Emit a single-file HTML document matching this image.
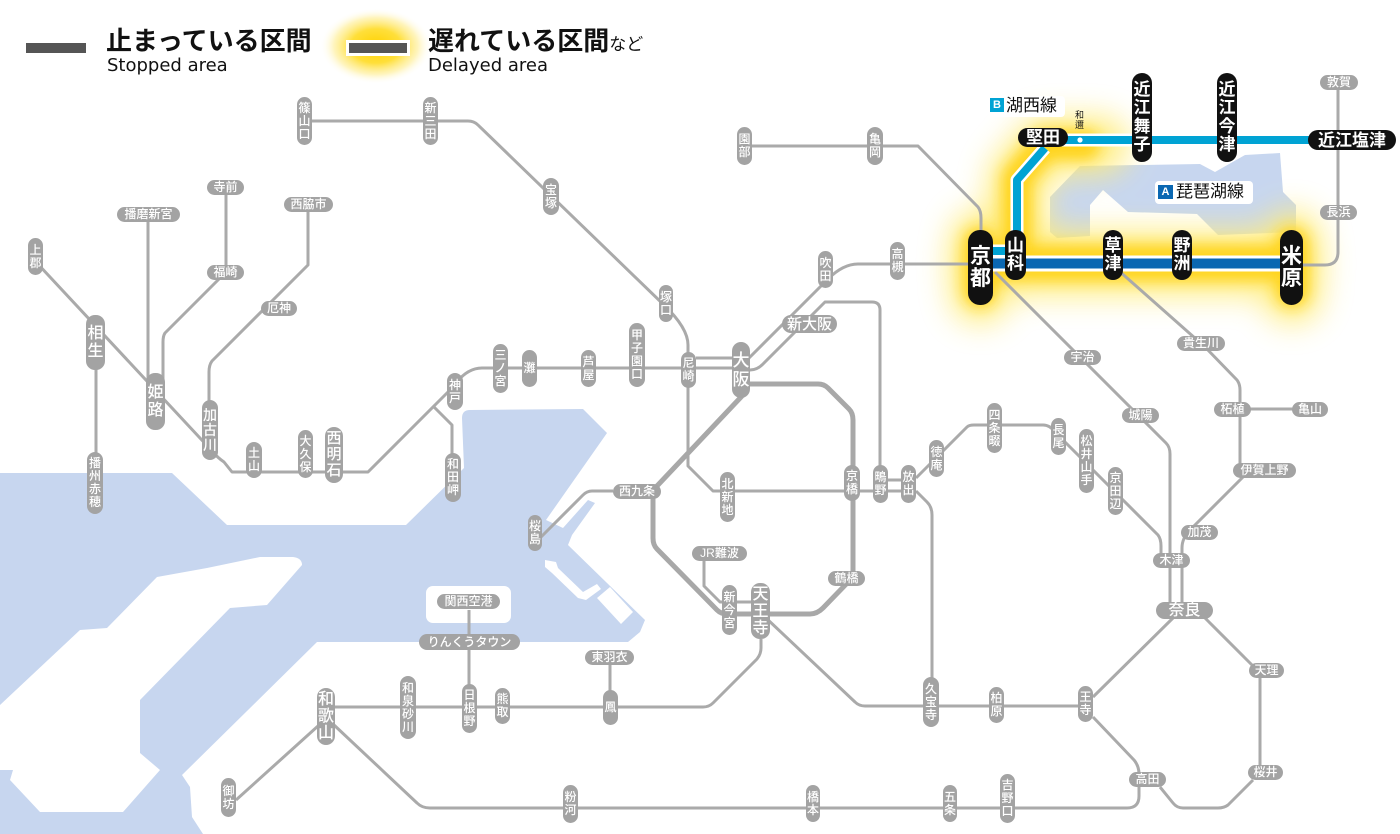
<!DOCTYPE html>
<html><head><meta charset="utf-8">
<style>
html,body{margin:0;padding:0;background:#fff}
#w{position:relative;width:1400px;height:834px;overflow:hidden;background:#fff;font-family:"Liberation Sans","Noto Sans CJK JP",sans-serif}
svg{position:absolute;left:0;top:0}
.p{position:absolute;background:#a3a3a3;color:#fff;display:flex;align-items:center;justify-content:center;text-align:center;font-size:12px;line-height:13px;white-space:nowrap;border-radius:8px;font-weight:500}
.b{background:#111;font-weight:bold;border-radius:11px}
.t{position:absolute;white-space:nowrap;color:#111}
</style></head><body><div id="w">
<svg width="1400" height="834" viewBox="0 0 1400 834">
<defs>
<filter id="bl" filterUnits="userSpaceOnUse" x="860" y="30" width="540" height="350"><feGaussianBlur stdDeviation="7"/></filter>
<filter id="bl2" filterUnits="userSpaceOnUse" x="860" y="30" width="540" height="350"><feGaussianBlur stdDeviation="15"/></filter>
<radialGradient id="lg" cx="0.5" cy="0.5" r="0.5">
<stop offset="0" stop-color="#ffd200"/><stop offset="0.45" stop-color="#ffdf3a"/><stop offset="0.75" stop-color="#fff0a0" stop-opacity="0.7"/><stop offset="1" stop-color="#fff" stop-opacity="0"/>
</radialGradient>
</defs>
<!-- sea -->
<path fill="#c7d6ef" d="M0,473 L172,473 L227,525 L406,525 L464,468 L462,418 Q462,410 470,410 L583,409 L607,433 L546,520 L563,528 L588,500 L595,503 L572,535 L568,545 L645,620 L640,632 L628,642 L317,642 L182,775 L190,787 L192,817 L203,834 L0,834 Z"/>
<path fill="#fff" d="M0,705 L80,630 L107,628 L157,577 L207,568 L260,557 L293,557 Q302,558 302,565 L267,605 L230,608 L140,700 L140,753 L160,770 L123,812 L40,812 L10,780 L13,770 L0,770 Z"/>
<path fill="#fff" d="M545,560 L556,562 L558,568 L583,592 L597,584 L601,589 L586,600 L578,598 L552,573 L545,567 Z"/>
<path fill="#fff" d="M597,598 L610,587 L633,612 L621,624 Z"/>
<rect x="426" y="586" width="85" height="37" rx="7" fill="#fff"/>
<!-- lake -->
<path fill="#c7d6ef" d="M1050,232 L1050,197 L1080,166 L1200,164 L1215,172 L1245,155 L1280,153 L1283,192 L1296,205 L1296,232 L1218,235 L1197,214 L1128,212 L1103,190 L1090,205 L1090,236 L1057,238 Z"/>
<!-- legend -->
<ellipse cx="376" cy="46" rx="56" ry="38" fill="url(#lg)"/>
<rect x="26" y="43" width="60" height="10" fill="#555"/>
<rect x="346" y="40" width="64" height="16" fill="#fff"/>
<rect x="349" y="43" width="58" height="10" fill="#555"/>
<!-- glow -->
<g filter="url(#bl2)" fill="none" stroke="#ffec7a" stroke-linecap="round" stroke-linejoin="round" opacity="0.9">
<path d="M980,263 H1292" stroke-width="66"/>
<path d="M980,240 V294 M1292,240 V294" stroke-width="60"/>
<path d="M1017,255 V178 L1045,145 H1100" stroke-width="58"/>
</g>
<g filter="url(#bl)" fill="none" stroke="#ffd41c" stroke-linecap="round" stroke-linejoin="round">
<path d="M980,263 H1292" stroke-width="36"/>
<path d="M980,244 V290 M1292,244 V290" stroke-width="34"/>
<path d="M1017,255 V178 L1045,145 H1085" stroke-width="30"/>
</g>
<!-- grey lines -->
<g fill="none" stroke="#aaa" stroke-width="3" stroke-linejoin="round">
<path d="M304,121 H468 Q474,121 478,125 L664,305 Q688,328 688,345 V466 L713,491 H916"/>
<path d="M744,146 H918 L978,207 Q981,211 981,218 V264"/>
<path d="M36,262 L213,452 Q218,458 224,462 L232,472 H368 L453,387 Q466,368 482,368 H741"/>
<path d="M433,406 L452,425 V478"/>
<path d="M696,358 H735"/>
<path d="M745,362 L828,279 Q843,264 858,264 H975"/>
<path d="M750,370 Q757,370 763,364 L825,302 H872 Q880,302 880,310 V480 H916"/>
<path d="M916,491 L927,502 Q932,507 932,515 V700"/>
<path d="M916,478 L967,427 Q969,425 974,425 H1043 Q1050,425 1055,432 L1158,535 Q1161,539 1161,546 V560"/>
<path d="M995,272 L1166,443 Q1170,447 1170,454 V610"/>
<path d="M1118,270 L1205,347 L1237,380 Q1240,384 1240,390 V470"/>
<path d="M1232,409 H1310"/>
<path d="M1250,470 L1190,530 Q1182,538 1182,548 V610"/>
<path d="M1295,265 H1325 Q1338,265 1338,252 V82"/>
<path d="M704,556 V586 L720,602 H760"/>
<path d="M766,618 L855,702 Q859,706 865,706 H1085"/>
<path d="M1093,697 L1173,618"/>
<path d="M1205,618 L1253,666"/>
<path d="M1260,678 V772"/>
<path d="M1253,780 L1228,805 Q1224,808 1218,808 H1183 Q1177,808 1173,803 L1160,787"/>
<path d="M1093,717 L1134,760 Q1139,766 1139,774 V796 Q1139,808 1127,808 H430 Q422,808 417,803 L334,725"/>
<path d="M761,639 V648 Q761,654 757,659 L713,703 Q709,707 703,707 H334"/>
<path d="M318,726 L236,800"/>
<path d="M469,610 V700"/>
<path d="M610,660 V705"/>
<path d="M613,491 H592 Q587,491 583,495 L538,540"/>
<path d="M308,210 V265 L212,361 Q209,365 209,372 V420"/>
<path d="M226,188 V272 L165,333 Q163,336 163,342 V390"/>
<path d="M148,214 V390"/>
<path d="M96,343 V483"/>
</g>
<path fill="none" stroke="#a8a8a8" stroke-width="5" stroke-linejoin="round" d="M745,384 H818 Q824,384 828,388 L849,409 Q853,413 853,420 V577 L823,608 Q817,614 810,614 H727 Q721,614 717,610 L657,549 Q653,545 653,538 V497 Q653,490 657,486 L742,396"/>
<!-- blue lines -->
<g fill="none" stroke-linejoin="round">
<path d="M990,251 H1017 V180 L1045,148 M1040,140 H1330" stroke="#fff" stroke-width="13"/>
<path d="M990,263.5 H1292" stroke="#fff" stroke-width="16"/>
<path d="M990,251 H1017 V180 L1045,148 M1040,140 H1330" stroke="#00a3d4" stroke-width="8"/>
<path d="M990,263.5 H1292" stroke="#0a67b2" stroke-width="10"/>
</g>
<circle cx="1080" cy="140" r="2.6" fill="#fff"/>
</svg>

<!-- legend text -->
<div class="t" style="left:106px;top:28px;font-size:26px;line-height:26px;font-weight:600">止まっている区間</div>
<div class="t" style="left:107px;top:57px;font-family:'DejaVu Sans',sans-serif;font-size:18px;line-height:18px">Stopped area</div>
<div class="t" style="left:428px;top:28px;font-size:26px;line-height:26px;font-weight:600">遅れている区間<span style="font-size:17px;font-weight:normal">など</span></div>
<div class="t" style="left:428px;top:57px;font-family:'DejaVu Sans',sans-serif;font-size:18px;line-height:18px">Delayed area</div>

<!-- line labels -->
<div class="t" style="left:989px;top:96px;width:76px;height:21px;background:#fff;border-radius:4px"></div>
<div class="t" style="left:990px;top:98px;width:14px;height:14px;background:#00a3d4;color:#fff;font-size:11px;line-height:14px;text-align:center;font-weight:bold">B</div>
<div class="t" style="left:1006px;top:96px;font-size:17px;line-height:20px">湖西線</div>
<div class="t" style="left:1155px;top:181px;width:98px;height:23px;background:#fff;border-radius:4px"></div>
<div class="t" style="left:1158px;top:185px;width:15px;height:14px;background:#0a67b2;color:#fff;font-size:11px;line-height:14px;text-align:center;font-weight:bold">A</div>
<div class="t" style="left:1176px;top:182px;font-size:17px;line-height:20px">琵琶湖線</div>
<div class="t" style="left:1075px;top:111px;font-size:9px;line-height:9.5px;text-align:center">和<br>邇</div>

<!-- grey vertical pills -->
<div class="p" style="left:297px;top:97px;width:15px;height:48px"><span>篠<br>山<br>口</span></div>
<div class="p" style="left:423px;top:97px;width:15px;height:48px"><span>新<br>三<br>田</span></div>
<div class="p" style="left:543px;top:178px;width:16px;height:37px"><span>宝<br>塚</span></div>
<div class="p" style="left:737px;top:127px;width:15px;height:38px"><span>園<br>部</span></div>
<div class="p" style="left:867px;top:127px;width:16px;height:38px"><span>亀<br>岡</span></div>
<div class="p" style="left:28px;top:238px;width:15px;height:37px"><span>上<br>郡</span></div>
<div class="p" style="left:86px;top:315px;width:19px;height:55px;font-size:16px;line-height:18px;border-radius:9px"><span>相<br>生</span></div>
<div class="p" style="left:146px;top:373px;width:19px;height:57px;font-size:16px;line-height:18px;border-radius:9px"><span>姫<br>路</span></div>
<div class="p" style="left:202px;top:400px;width:16px;height:60px;font-size:14px;line-height:15px"><span>加<br>古<br>川</span></div>
<div class="p" style="left:246px;top:442px;width:16px;height:36px"><span>土<br>山</span></div>
<div class="p" style="left:298px;top:430px;width:15px;height:48px"><span>大<br>久<br>保</span></div>
<div class="p" style="left:325px;top:427px;width:18px;height:56px;font-size:15px;line-height:16px;border-radius:9px"><span>西<br>明<br>石</span></div>
<div class="p" style="left:447px;top:373px;width:16px;height:37px"><span>神<br>戸</span></div>
<div class="p" style="left:445px;top:453px;width:16px;height:49px"><span>和<br>田<br>岬</span></div>
<div class="p" style="left:87px;top:452px;width:16px;height:62px"><span>播<br>州<br>赤<br>穂</span></div>
<div class="p" style="left:493px;top:344px;width:15px;height:49px"><span>三<br>ノ<br>宮</span></div>
<div class="p" style="left:522px;top:350px;width:15px;height:37px"><span>灘</span></div>
<div class="p" style="left:581px;top:350px;width:15px;height:37px"><span>芦<br>屋</span></div>
<div class="p" style="left:629px;top:323px;width:16px;height:64px"><span>甲<br>子<br>園<br>口</span></div>
<div class="p" style="left:659px;top:285px;width:14px;height:37px"><span>塚<br>口</span></div>
<div class="p" style="left:681px;top:352px;width:15px;height:36px"><span>尼<br>崎</span></div>
<div class="p" style="left:732px;top:342px;width:18px;height:56px;font-size:17px;line-height:19px;border-radius:9px"><span>大<br>阪</span></div>
<div class="p" style="left:818px;top:251px;width:15px;height:37px"><span>吹<br>田</span></div>
<div class="p" style="left:890px;top:242px;width:15px;height:38px"><span>高<br>槻</span></div>
<div class="p" style="left:720px;top:472px;width:15px;height:50px"><span>北<br>新<br>地</span></div>
<div class="p" style="left:844px;top:465px;width:16px;height:36px"><span>京<br>橋</span></div>
<div class="p" style="left:873px;top:465px;width:15px;height:38px"><span>鴫<br>野</span></div>
<div class="p" style="left:901px;top:465px;width:15px;height:38px"><span>放<br>出</span></div>
<div class="p" style="left:929px;top:440px;width:15px;height:37px"><span>徳<br>庵</span></div>
<div class="p" style="left:987px;top:403px;width:15px;height:50px"><span>四<br>条<br>畷</span></div>
<div class="p" style="left:1051px;top:418px;width:15px;height:37px"><span>長<br>尾</span></div>
<div class="p" style="left:1079px;top:429px;width:15px;height:64px"><span>松<br>井<br>山<br>手</span></div>
<div class="p" style="left:1108px;top:467px;width:15px;height:48px"><span>京<br>田<br>辺</span></div>
<div class="p" style="left:722px;top:585px;width:15px;height:50px"><span>新<br>今<br>宮</span></div>
<div class="p" style="left:751px;top:583px;width:19px;height:56px;font-size:16px;line-height:17px;border-radius:9px"><span>天<br>王<br>寺</span></div>
<div class="p" style="left:528px;top:515px;width:14px;height:36px"><span>桜<br>島</span></div>
<div class="p" style="left:317px;top:688px;width:18px;height:57px;font-size:16px;line-height:17px;border-radius:9px"><span>和<br>歌<br>山</span></div>
<div class="p" style="left:400px;top:676px;width:16px;height:63px"><span>和<br>泉<br>砂<br>川</span></div>
<div class="p" style="left:462px;top:684px;width:15px;height:49px"><span>日<br>根<br>野</span></div>
<div class="p" style="left:495px;top:688px;width:15px;height:36px"><span>熊<br>取</span></div>
<div class="p" style="left:603px;top:690px;width:15px;height:35px"><span>鳳</span></div>
<div class="p" style="left:923px;top:677px;width:16px;height:50px"><span>久<br>宝<br>寺</span></div>
<div class="p" style="left:989px;top:687px;width:15px;height:36px"><span>柏<br>原</span></div>
<div class="p" style="left:1078px;top:686px;width:15px;height:36px"><span>王<br>寺</span></div>
<div class="p" style="left:221px;top:778px;width:15px;height:39px"><span>御<br>坊</span></div>
<div class="p" style="left:563px;top:785px;width:15px;height:38px"><span>粉<br>河</span></div>
<div class="p" style="left:806px;top:785px;width:14px;height:37px"><span>橋<br>本</span></div>
<div class="p" style="left:943px;top:785px;width:14px;height:37px"><span>五<br>条</span></div>
<div class="p" style="left:1000px;top:774px;width:15px;height:49px"><span>吉<br>野<br>口</span></div>

<!-- grey horizontal pills -->
<div class="p" style="left:207px;top:180px;width:37px;height:15px">寺前</div>
<div class="p" style="left:117px;top:207px;width:63px;height:15px">播磨新宮</div>
<div class="p" style="left:284px;top:197px;width:49px;height:15px">西脇市</div>
<div class="p" style="left:207px;top:265px;width:37px;height:15px">福崎</div>
<div class="p" style="left:261px;top:301px;width:36px;height:15px">厄神</div>
<div class="p" style="left:782px;top:315px;width:55px;height:18px;font-size:15px;border-radius:9px">新大阪</div>
<div class="p" style="left:613px;top:484px;width:48px;height:15px">西九条</div>
<div class="p" style="left:692px;top:546px;width:55px;height:15px">JR難波</div>
<div class="p" style="left:828px;top:571px;width:37px;height:15px">鶴橋</div>
<div class="p" style="left:437px;top:594px;width:63px;height:15px">関西空港</div>
<div class="p" style="left:419px;top:634px;width:101px;height:16px">りんくうタウン</div>
<div class="p" style="left:585px;top:650px;width:49px;height:15px">東羽衣</div>
<div class="p" style="left:1320px;top:75px;width:38px;height:15px">敦賀</div>
<div class="p" style="left:1320px;top:205px;width:37px;height:15px">長浜</div>
<div class="p" style="left:1064px;top:350px;width:37px;height:15px">宇治</div>
<div class="p" style="left:1122px;top:408px;width:37px;height:15px">城陽</div>
<div class="p" style="left:1177px;top:336px;width:48px;height:15px">貴生川</div>
<div class="p" style="left:1214px;top:402px;width:37px;height:15px">柘植</div>
<div class="p" style="left:1292px;top:402px;width:36px;height:15px">亀山</div>
<div class="p" style="left:1233px;top:463px;width:63px;height:15px">伊賀上野</div>
<div class="p" style="left:1181px;top:525px;width:37px;height:15px">加茂</div>
<div class="p" style="left:1153px;top:553px;width:37px;height:15px">木津</div>
<div class="p" style="left:1156px;top:602px;width:57px;height:17px;font-size:16px;border-radius:9px">奈良</div>
<div class="p" style="left:1249px;top:663px;width:35px;height:15px">天理</div>
<div class="p" style="left:1129px;top:772px;width:37px;height:15px">高田</div>
<div class="p" style="left:1248px;top:765px;width:35px;height:15px">桜井</div>

<!-- black pills -->
<div class="p b" style="left:968px;top:230px;width:25px;height:75px;font-size:21px;line-height:22px;border-radius:12px"><span>京<br>都</span></div>
<div class="p b" style="left:1005px;top:230px;width:21px;height:50px;font-size:17px;line-height:18px;border-radius:10px"><span>山<br>科</span></div>
<div class="p b" style="left:1103px;top:230px;width:20px;height:50px;font-size:17px;line-height:18px;border-radius:10px"><span>草<br>津</span></div>
<div class="p b" style="left:1172px;top:230px;width:20px;height:50px;font-size:17px;line-height:18px;border-radius:10px"><span>野<br>洲</span></div>
<div class="p b" style="left:1280px;top:230px;width:23px;height:75px;font-size:21px;line-height:22px;border-radius:12px"><span>米<br>原</span></div>
<div class="p b" style="left:1018px;top:128px;width:50px;height:19px;font-size:17px;border-radius:10px">堅田</div>
<div class="p b" style="left:1132px;top:73px;width:20px;height:89px;font-size:17px;line-height:18.5px;border-radius:10px"><span>近<br>江<br>舞<br>子</span></div>
<div class="p b" style="left:1217px;top:73px;width:20px;height:89px;font-size:17px;line-height:18.5px;border-radius:10px"><span>近<br>江<br>今<br>津</span></div>
<div class="p b" style="left:1308px;top:130px;width:88px;height:20px;font-size:17px;border-radius:10px">近江塩津</div>
</div></body></html>
